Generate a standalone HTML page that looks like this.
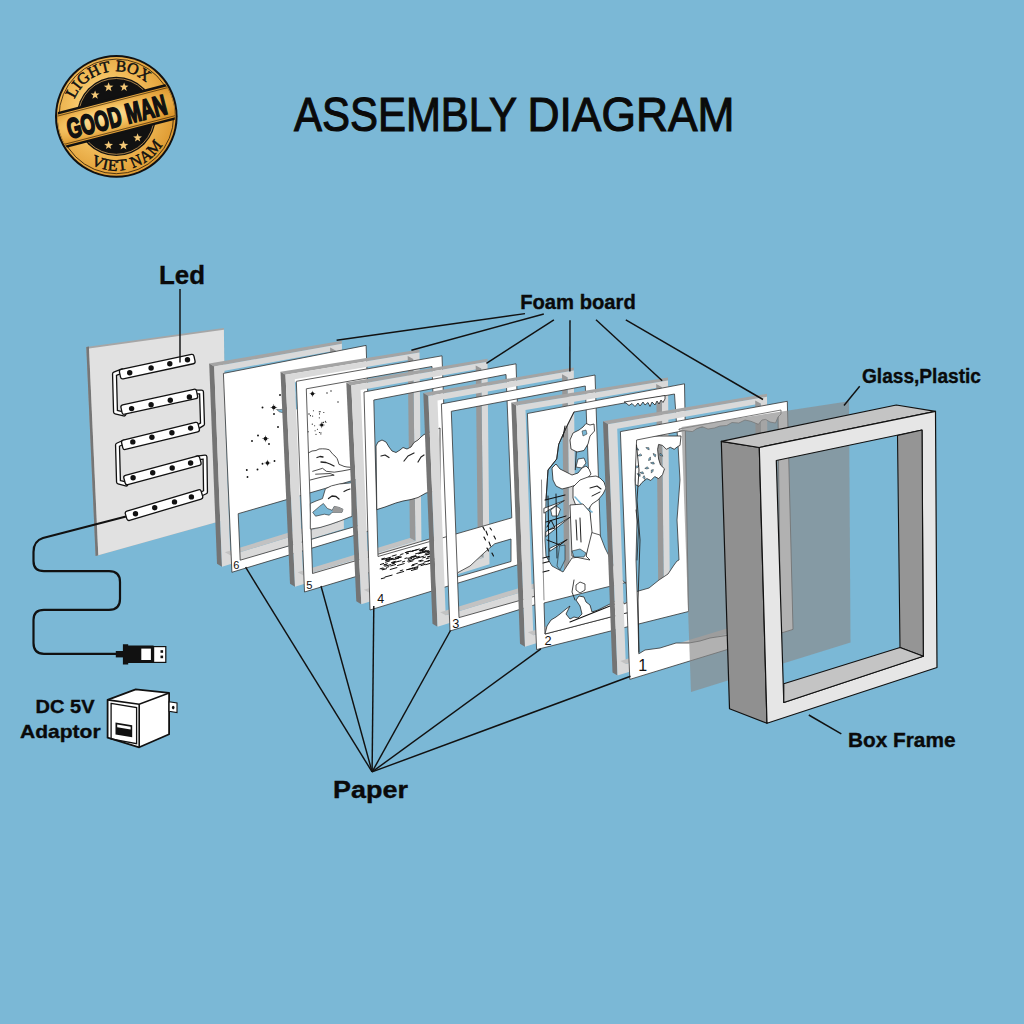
<!DOCTYPE html><html><head><meta charset="utf-8"><style>html,body{margin:0;padding:0;background:#7bb8d6;}svg{display:block;}</style></head><body><svg width="1024" height="1024" viewBox="0 0 1024 1024" font-family="Liberation Sans, sans-serif">
<rect width="1024" height="1024" fill="#7bb8d6"/>
<defs><radialGradient id="gold" cx="0.42" cy="0.45" r="0.62"><stop offset="0" stop-color="#fde6a6"/><stop offset="0.5" stop-color="#f3bf5e"/><stop offset="1" stop-color="#dc962c"/></radialGradient><clipPath id="lclip"><circle cx="116.3" cy="116.4" r="58.6"/></clipPath></defs>
<circle cx="116.3" cy="116.4" r="61.3" fill="#111"/>
<circle cx="116.3" cy="116.4" r="59.3" fill="url(#gold)"/>
<circle cx="116.3" cy="116.4" r="57.3" fill="none" stroke="#2a1a08" stroke-width="0.8"/>
<circle cx="116.3" cy="116.4" r="39.6" fill="#111"/>
<circle cx="116.3" cy="116.4" r="37.9" fill="none" stroke="#e8b060" stroke-width="0.7"/>
<g clip-path="url(#lclip)"><g transform="translate(116.3,115.9) rotate(-14.5)"><rect x="-70" y="-18.5" width="140" height="37" fill="#111"/><rect x="-70" y="-16" width="140" height="32" fill="url(#gold)"/><rect x="-70" y="-14.5" width="140" height="29" fill="none" stroke="#2a1a08" stroke-width="0.6"/></g></g>
<g transform="translate(116.6,116.9) rotate(-14.5)"><text x="0" y="0" text-anchor="middle" font-size="22" font-weight="bold" fill="#111" stroke="#111" stroke-width="1.4" textLength="102" lengthAdjust="spacingAndGlyphs" transform="translate(0,9.6) scale(1,1.28)">GOOD MAN</text></g>
<polygon points="95.1,90.4 96.2,93.4 99.5,93.6 96.9,95.6 97.8,98.7 95.1,96.9 92.4,98.7 93.3,95.6 90.7,93.6 94.0,93.4" fill="#f3c877"/>
<polygon points="108.6,82.2 109.8,85.5 113.4,85.7 110.6,87.8 111.5,91.2 108.6,89.3 105.7,91.2 106.6,87.8 103.8,85.7 107.4,85.5" fill="#f3c877"/>
<polygon points="124.1,82.6 125.2,85.6 128.5,85.8 125.9,87.8 126.8,90.9 124.1,89.1 121.4,90.9 122.3,87.8 119.7,85.8 123.0,85.6" fill="#f3c877"/>
<polygon points="108.6,140.8 109.7,143.8 113.0,144.0 110.4,146.0 111.3,149.1 108.6,147.3 105.9,149.1 106.8,146.0 104.2,144.0 107.5,143.8" fill="#f3c877"/>
<polygon points="123.5,140.4 124.7,143.7 128.3,143.9 125.5,146.0 126.4,149.4 123.5,147.5 120.6,149.4 121.5,146.0 118.7,143.9 122.3,143.7" fill="#f3c877"/>
<polygon points="137.6,133.2 138.7,136.2 142.0,136.4 139.4,138.4 140.3,141.5 137.6,139.7 134.9,141.5 135.8,138.4 133.2,136.4 136.5,136.2" fill="#f3c877"/>
<text x="0" y="0" text-anchor="middle" font-family="Liberation Serif, serif" font-size="16" fill="#111" stroke="#111" stroke-width="0.5" transform="translate(76.70,94.60) rotate(298.84)">L</text>
<text x="0" y="0" text-anchor="middle" font-family="Liberation Serif, serif" font-size="16" fill="#111" stroke="#111" stroke-width="0.5" transform="translate(80.88,88.32) rotate(308.41)">I</text>
<text x="0" y="0" text-anchor="middle" font-family="Liberation Serif, serif" font-size="16" fill="#111" stroke="#111" stroke-width="0.5" transform="translate(86.71,82.23) rotate(319.11)">G</text>
<text x="0" y="0" text-anchor="middle" font-family="Liberation Serif, serif" font-size="16" fill="#111" stroke="#111" stroke-width="0.5" transform="translate(96.31,75.86) rotate(333.75)">H</text>
<text x="0" y="0" text-anchor="middle" font-family="Liberation Serif, serif" font-size="16" fill="#111" stroke="#111" stroke-width="0.5" transform="translate(106.34,72.31) rotate(347.27)">T</text>
<text x="0" y="0" text-anchor="middle" font-family="Liberation Serif, serif" font-size="16" fill="#111" stroke="#111" stroke-width="0.5" transform="translate(120.48,71.39) rotate(365.30)">B</text>
<text x="0" y="0" text-anchor="middle" font-family="Liberation Serif, serif" font-size="16" fill="#111" stroke="#111" stroke-width="0.5" transform="translate(131.30,73.76) rotate(379.39)">O</text>
<text x="0" y="0" text-anchor="middle" font-family="Liberation Serif, serif" font-size="16" fill="#111" stroke="#111" stroke-width="0.5" transform="translate(141.60,78.94) rotate(394.04)">X</text>
<text x="0" y="0" text-anchor="middle" font-family="Liberation Serif, serif" font-size="16" fill="#111" stroke="#111" stroke-width="0.5" transform="translate(95.81,166.58) rotate(22.22)">V</text>
<text x="0" y="0" text-anchor="middle" font-family="Liberation Serif, serif" font-size="16" fill="#111" stroke="#111" stroke-width="0.5" transform="translate(104.42,169.28) rotate(12.66)">I</text>
<text x="0" y="0" text-anchor="middle" font-family="Liberation Serif, serif" font-size="16" fill="#111" stroke="#111" stroke-width="0.5" transform="translate(112.48,170.47) rotate(4.04)">E</text>
<text x="0" y="0" text-anchor="middle" font-family="Liberation Serif, serif" font-size="16" fill="#111" stroke="#111" stroke-width="0.5" transform="translate(122.83,170.20) rotate(-6.92)">T</text>
<text x="0" y="0" text-anchor="middle" font-family="Liberation Serif, serif" font-size="16" fill="#111" stroke="#111" stroke-width="0.5" transform="translate(138.08,166.03) rotate(-23.69)">N</text>
<text x="0" y="0" text-anchor="middle" font-family="Liberation Serif, serif" font-size="16" fill="#111" stroke="#111" stroke-width="0.5" transform="translate(148.57,159.95) rotate(-36.54)">A</text>
<text x="0" y="0" text-anchor="middle" font-family="Liberation Serif, serif" font-size="16" fill="#111" stroke="#111" stroke-width="0.5" transform="translate(158.30,150.65) rotate(-50.80)">M</text>
<polygon points="86.3,347.0 223.9,328.0 226.0,519.5 95.6,556.0" fill="#a6a6a6"/>
<polygon points="86.3,347.0 89.0,346.6 98.3,555.3 95.6,556.0" fill="#767676"/>
<polygon points="89.0,348.4 223.9,329.7 226.0,519.5 98.3,555.3" fill="#e1e1e1"/>
<path d="M122.0,371.0 L114.5,374.0 L115.5,412.0 L124.0,414.0" fill="none" stroke="#111" stroke-width="5.2" stroke-linejoin="round" stroke-linecap="round"/>
<path d="M122.0,371.0 L114.5,374.0 L115.5,412.0 L124.0,414.0" fill="none" stroke="#fff" stroke-width="2.6" stroke-linejoin="round" stroke-linecap="round"/>
<path d="M193.0,392.0 L201.5,392.0 L202.5,424.0 L196.0,428.0" fill="none" stroke="#111" stroke-width="5.2" stroke-linejoin="round" stroke-linecap="round"/>
<path d="M193.0,392.0 L201.5,392.0 L202.5,424.0 L196.0,428.0" fill="none" stroke="#fff" stroke-width="2.6" stroke-linejoin="round" stroke-linecap="round"/>
<path d="M124.0,442.0 L117.5,445.0 L118.5,482.0 L126.0,484.0" fill="none" stroke="#111" stroke-width="5.2" stroke-linejoin="round" stroke-linecap="round"/>
<path d="M124.0,442.0 L117.5,445.0 L118.5,482.0 L126.0,484.0" fill="none" stroke="#fff" stroke-width="2.6" stroke-linejoin="round" stroke-linecap="round"/>
<path d="M197.0,458.0 L205.0,457.0 L205.5,492.0 L199.0,495.0" fill="none" stroke="#111" stroke-width="5.2" stroke-linejoin="round" stroke-linecap="round"/>
<path d="M197.0,458.0 L205.0,457.0 L205.5,492.0 L199.0,495.0" fill="none" stroke="#fff" stroke-width="2.6" stroke-linejoin="round" stroke-linecap="round"/>
<rect x="0" y="-4.8" width="76.2" height="9.6" rx="2.2" fill="#fff" stroke="#111" stroke-width="1.3" transform="translate(120.0,374.6) rotate(-12.12)"/>
<circle cx="129.7" cy="372.7" r="2.7" fill="#111"/>
<circle cx="151.1" cy="368.0" r="2.7" fill="#111"/>
<circle cx="169.8" cy="363.8" r="2.7" fill="#111"/>
<circle cx="187.5" cy="359.8" r="2.7" fill="#111"/>
<rect x="0" y="-4.8" width="77.3" height="9.6" rx="2.2" fill="#fff" stroke="#111" stroke-width="1.3" transform="translate(121.5,410.0) rotate(-12.33)"/>
<circle cx="131.6" cy="408.6" r="2.7" fill="#111"/>
<circle cx="151.1" cy="404.7" r="2.7" fill="#111"/>
<circle cx="170.3" cy="400.3" r="2.7" fill="#111"/>
<circle cx="189.4" cy="396.9" r="2.7" fill="#111"/>
<rect x="0" y="-4.8" width="78.8" height="9.6" rx="2.2" fill="#fff" stroke="#111" stroke-width="1.3" transform="translate(122.2,445.3) rotate(-13.72)"/>
<circle cx="132.8" cy="441.9" r="2.7" fill="#111"/>
<circle cx="151.9" cy="437.2" r="2.7" fill="#111"/>
<circle cx="171.9" cy="432.8" r="2.7" fill="#111"/>
<circle cx="190.6" cy="428.1" r="2.7" fill="#111"/>
<rect x="0" y="-4.8" width="78.5" height="9.6" rx="2.2" fill="#fff" stroke="#111" stroke-width="1.3" transform="translate(124.5,480.5) rotate(-14.99)"/>
<circle cx="133.1" cy="477.8" r="2.7" fill="#111"/>
<circle cx="152.7" cy="472.7" r="2.7" fill="#111"/>
<circle cx="172.2" cy="468.0" r="2.7" fill="#111"/>
<circle cx="190.6" cy="463.0" r="2.7" fill="#111"/>
<rect x="0" y="-4.8" width="79.1" height="9.6" rx="2.2" fill="#fff" stroke="#111" stroke-width="1.3" transform="translate(126.1,516.4) rotate(-16.60)"/>
<circle cx="135.5" cy="513.8" r="2.7" fill="#111"/>
<circle cx="154.7" cy="507.8" r="2.7" fill="#111"/>
<circle cx="174.5" cy="501.9" r="2.7" fill="#111"/>
<circle cx="191.4" cy="496.9" r="2.7" fill="#111"/>
<path d="M126,516.5 L43,538 Q33.5,541 33.5,552 L33.5,561 Q33.5,571.2 44,571.2 L109,571.2 Q120,571.2 120,582 L120,599 Q120,609.9 109,609.9 L44,609.9 Q33.5,609.9 33.5,620 L33.5,643 Q33.5,653.8 44,653.8 L117,653.8" fill="none" stroke="#111" stroke-width="2.2"/>
<rect x="115.8" y="651.0" width="8" height="6.4" fill="#111"/>
<path d="M122.9,644.2 L128.2,644.2 L128.2,645.6 L153.6,645.6 L153.6,663 L128.2,663 L128.2,664.4 L122.9,664.4 Z" fill="#111"/>
<rect x="141.3" y="648.6" width="9.6" height="11.4" fill="#fff"/>
<rect x="153.6" y="646.6" width="12.2" height="15.8" fill="#fff" stroke="#111" stroke-width="1.2"/>
<rect x="160.5" y="650.2" width="2.6" height="2.6" fill="#111"/>
<rect x="160.5" y="655.6" width="2.6" height="2.6" fill="#111"/>
<polygon points="107.6,699.9 135.7,689.3 169.1,692.9 169.1,734.2 139.2,747.3 107.6,737.7" fill="#fff" stroke="#111" stroke-width="1.8" stroke-linejoin="round"/>
<polyline points="107.6,699.9 139.2,704.3 169.1,692.9" fill="none" stroke="#111" stroke-width="1.6"/>
<line x1="139.2" y1="704.3" x2="139.2" y2="747.3" stroke="#111" stroke-width="1.6"/>
<polygon points="111.1,703.4 136.6,707.6 136.6,743.6 111.1,739.0" fill="none" stroke="#111" stroke-width="1.3"/>
<polygon points="115.5,722.5 132.2,725.2 132.2,737.2 115.5,734.5" fill="#111"/>
<polygon points="117.2,724.5 130.6,726.8 130.6,729.6 117.2,727.3" fill="#fff"/>
<polygon points="169.1,701.8 177.0,703.0 177.0,712.6 169.1,711.4" fill="#fff" stroke="#111" stroke-width="1.1"/>
<ellipse cx="173.2" cy="707.6" rx="1.3" ry="1.8" fill="#111"/>
<polygon points="209.2,363.6 341.9,340.7 341.9,343.7 214.2,366.6" fill="#a4a4a4"/>
<polygon points="209.2,363.6 214.2,366.6 222.0,566.8 217.0,563.8" fill="#747474"/>
<path d="M214.2,366.6 L341.9,343.7 L343.9,528.7 L222.0,566.8Z M223.4,371.0 L335.6,350.4 L337.7,522.3 L230.3,555.2Z" fill="#d9d9d9" fill-rule="evenodd"/>
<polygon points="335.6,350.4 337.7,522.3 332.2,519.3 330.1,347.4" fill="#989898"/>
<polygon points="230.3,555.2 337.7,522.3 332.2,519.3 224.8,552.2" fill="#c2c2c2"/>
<path d="M223.4,373.4 L366.1,345.4 L372.6,529.8 L231.9,572.3Z M238.2,513.7 L356.0,479.5 L358.5,525.5 L240.2,560.2Z" fill="#fff" fill-rule="evenodd" stroke="#333" stroke-width="0.8"/>
<polygon points="277.6,407.5 275.1,408.0 275.5,409.2 274.3,408.8 273.8,411.3 273.3,408.8 272.1,409.2 272.5,408.0 270.0,407.5 272.5,407.0 272.1,405.8 273.3,406.2 273.8,403.7 274.3,406.2 275.5,405.8 275.1,407.0" fill="#111"/><circle cx="273.8" cy="407.5" r="1.44" fill="#111"/>
<polygon points="269.3,438.8 266.8,439.3 267.2,440.5 266.0,440.1 265.5,442.6 265.0,440.1 263.8,440.5 264.2,439.3 261.7,438.8 264.2,438.3 263.8,437.1 265.0,437.5 265.5,435.0 266.0,437.5 267.2,437.1 266.8,438.3" fill="#111"/><circle cx="265.5" cy="438.8" r="1.44" fill="#111"/>
<polygon points="271.1,463.0 268.7,463.5 269.1,464.6 268.0,464.2 267.5,466.6 267.0,464.2 265.9,464.6 266.3,463.5 263.9,463.0 266.3,462.5 265.9,461.4 267.0,461.8 267.5,459.4 268.0,461.8 269.1,461.4 268.7,462.5" fill="#111"/><circle cx="267.5" cy="463.0" r="1.37" fill="#111"/>
<circle cx="262.5" cy="407.5" r="0.95" fill="#111"/>
<circle cx="274" cy="414" r="0.95" fill="#111"/>
<circle cx="280" cy="395" r="0.95" fill="#111"/>
<circle cx="258" cy="435.5" r="0.95" fill="#111"/>
<circle cx="246.8" cy="470" r="0.95" fill="#111"/>
<circle cx="247.5" cy="477" r="0.95" fill="#111"/>
<circle cx="257.5" cy="469.5" r="0.95" fill="#111"/>
<circle cx="274.5" cy="461" r="0.95" fill="#111"/>
<circle cx="278" cy="427" r="0.95" fill="#111"/>
<circle cx="262.5" cy="463.8" r="0.95" fill="#111"/>
<circle cx="269" cy="444" r="0.95" fill="#111"/>
<circle cx="252" cy="441" r="0.95" fill="#111"/>
<path d="M293,382 L298.5,382.5 L298.5,409 L293.5,410 Q293,404 294.5,399 Q296.5,393 293,382Z" fill="#7bb8d6"/>
<path d="M276.5,409.5 Q280,410 283.5,409 L283,412.8 Q279,412.5 276.5,409.5Z" fill="#7bb8d6" stroke="#333" stroke-width="0.5"/>
<text x="233.2" y="568.8" font-size="11" fill="#111">6</text>
<polygon points="280.5,371.8 419.5,349.5 419.5,352.5 285.5,374.8" fill="#a4a4a4"/>
<polygon points="280.5,371.8 285.5,374.8 295.0,586.8 290.0,583.8" fill="#747474"/>
<path d="M285.5,374.8 L419.5,352.5 L421.5,547.4 L295.0,586.8Z M294.8,379.3 L413.2,359.1 L415.4,541.0 L303.1,575.2Z" fill="#d9d9d9" fill-rule="evenodd"/>
<polygon points="413.2,359.1 415.4,541.0 409.9,538.0 407.7,356.1" fill="#989898"/>
<polygon points="303.1,575.2 415.4,541.0 409.9,538.0 297.6,572.2" fill="#c2c2c2"/>
<path d="M296.3,381.3 L442.0,355.8 L449.0,548.6 L304.5,592.0Z M306.3,388.8 L432.0,366.5 L438.0,536.5 L312.5,573.5Z" fill="#fff" fill-rule="evenodd" stroke="#333" stroke-width="0.8"/>
<polygon points="315.9,393.8 313.6,394.3 314.0,395.3 313.0,394.9 312.5,397.2 312.0,394.9 311.0,395.3 311.4,394.3 309.1,393.8 311.4,393.3 311.0,392.3 312.0,392.7 312.5,390.4 313.0,392.7 314.0,392.3 313.6,393.3" fill="#111"/><circle cx="312.5" cy="393.8" r="1.29" fill="#111"/>
<polygon points="325.2,425.0 322.9,425.5 323.3,426.5 322.3,426.1 321.8,428.4 321.3,426.1 320.3,426.5 320.7,425.5 318.4,425.0 320.7,424.5 320.3,423.5 321.3,423.9 321.8,421.6 322.3,423.9 323.3,423.5 322.9,424.5" fill="#111"/><circle cx="321.8" cy="425.0" r="1.29" fill="#111"/>
<circle cx="312.283363287654" cy="424.14995985769474" r="0.55" fill="#111"/>
<circle cx="314.65919299786543" cy="425.70192100350107" r="0.55" fill="#111"/>
<circle cx="319.262965473945" cy="411.70375034023516" r="0.55" fill="#111"/>
<circle cx="308.23702384798776" cy="431.774196134508" r="0.55" fill="#111"/>
<circle cx="312.66837225790414" cy="416.0926049872141" r="0.55" fill="#111"/>
<circle cx="325.9216070391883" cy="422.22685119558366" r="0.55" fill="#111"/>
<circle cx="323.056306122939" cy="422.3851834261827" r="0.55" fill="#111"/>
<circle cx="319.5032265297949" cy="413.9160270246116" r="0.55" fill="#111"/>
<circle cx="319.4274918491334" cy="432.56917798572573" r="0.55" fill="#111"/>
<circle cx="317.4172617868994" cy="429.27254826123874" r="0.55" fill="#111"/>
<circle cx="320.0854065566527" cy="411.66481739390196" r="0.55" fill="#111"/>
<circle cx="321.6481444331627" cy="425.3685891562143" r="0.55" fill="#111"/>
<circle cx="313.4228178712828" cy="410.8063055382135" r="0.55" fill="#111"/>
<circle cx="323.579490265621" cy="422.2914763053021" r="0.55" fill="#111"/>
<circle cx="320.93883063318447" cy="432.8491328066425" r="0.55" fill="#111"/>
<circle cx="320.85433070500164" cy="433.9485653571807" r="0.55" fill="#111"/>
<circle cx="315.1093412720134" cy="430.8236280456159" r="0.55" fill="#111"/>
<circle cx="316.00317900891366" cy="434.32525476431755" r="0.55" fill="#111"/>
<circle cx="323.81959988608475" cy="412.5338120530028" r="0.55" fill="#111"/>
<circle cx="310.447439483612" cy="415.6416604720616" r="0.55" fill="#111"/>
<circle cx="325.37864250016764" cy="421.34020853231317" r="0.55" fill="#111"/>
<circle cx="319.27966923560246" cy="417.8266811590631" r="0.55" fill="#111"/>
<circle cx="331" cy="391" r="0.7" fill="#111"/>
<circle cx="338" cy="402" r="0.7" fill="#111"/>
<circle cx="327" cy="393" r="0.7" fill="#111"/>
<circle cx="309" cy="414" r="0.7" fill="#111"/>
<path d="M308.8,452.7 L312.0,451.0 L316.0,450.5 L319.0,449.0 L322.5,448.8 L326.0,449.0 L329.3,449.8 L331.0,452.0 L333.2,454.6 L335.0,456.0 L337.1,458.6 L338.0,461.0 L339.0,464.4 L342.0,465.5 L344.0,466.4 L347.0,467.0 L351.0,467.3" fill="none" stroke="#222" stroke-width="0.8" stroke-linecap="round" stroke-linejoin="round"/>
<path d="M312.7,471.3 L317.0,470.0 L322.5,468.3 L326.4,471.3 L334.2,472.2 L342.0,471.0 L351.0,469.3" fill="none" stroke="#222" stroke-width="0.8" stroke-linecap="round" stroke-linejoin="round"/>
<path d="M310.3,480.0 L316.0,478.5 L322.0,477.0 L328.0,476.0 L334.2,475.2 L330.0,473.5 L315.6,474.2" fill="none" stroke="#222" stroke-width="0.8" stroke-linecap="round" stroke-linejoin="round"/>
<path d="M317.0,457.5 L320.0,456.5 L323.0,457.0" fill="none" stroke="#222" stroke-width="1.3" stroke-linecap="round" stroke-linejoin="round"/>
<path d="M321.0,462.0 L326.0,462.5 L330.0,464.0 L334.0,466.0" fill="none" stroke="#222" stroke-width="1.3" stroke-linecap="round" stroke-linejoin="round"/>
<path d="M310.3,503.5 L316.0,501.0 L322.5,498.6 L325.4,488.8 L331.3,485.9 L339.0,484.0 L349.8,483.0 L352.0,482.5 L352.0,516.5 L349.8,517.1 L340.0,521.0 L330.0,524.5 L320.0,527.5 L311.7,528.9 L310.3,528.9Z" fill="#fff" stroke="#222" stroke-width="0.7" stroke-linejoin="round"/>
<path d="M312.7,512.3 L319.5,506.4 L323.4,503.5 L327.3,508.4 L332.2,510.3 L334.2,506.4 L339.0,507.4 L343.0,509.3 L342.0,512.3 L332.2,512.3 L329.3,515.2 L324.4,514.2 L315.6,516.2Z" fill="#7bb8d6" stroke="#222" stroke-width="0.6" stroke-linejoin="round"/>
<path d="M332.5,510.5 L334.5,506.3 L339,507.2 L343,509.3 L342,512.2 L333,512.2Z" fill="#9a9a9a"/>
<path d="M328.5,498.5 L332.0,496.0 L336.0,496.5 L339.0,499.0" fill="none" stroke="#222" stroke-width="1.3" stroke-linecap="round" stroke-linejoin="round"/>
<path d="M344.0,491.5 L347.0,490.0 L350.0,489.0" fill="none" stroke="#222" stroke-width="1.2" stroke-linecap="round" stroke-linejoin="round"/>
<text x="306.2" y="589.1" font-size="11.2" fill="#111">5</text>
<polygon points="346.3,382.5 487.5,358.8 487.5,361.8 351.3,385.5" fill="#a4a4a4"/>
<polygon points="346.3,382.5 351.3,385.5 361.3,604.3 356.3,601.3" fill="#747474"/>
<path d="M351.3,385.5 L487.5,361.8 L489.5,564.3 L361.3,604.3Z M360.6,389.9 L481.2,368.5 L483.4,557.8 L369.4,592.7Z" fill="#d9d9d9" fill-rule="evenodd"/>
<polygon points="481.2,368.5 483.4,557.8 477.9,554.8 475.7,365.5" fill="#989898"/>
<polygon points="369.4,592.7 483.4,557.8 477.9,554.8 363.9,589.7" fill="#c2c2c2"/>
<path d="M364.0,392.0 L516.0,363.8 L523.0,563.2 L370.0,610.0Z M373.8,400.0 L506.0,374.5 L511.8,517.8 L378.0,556.5Z M452.0,580.0 L458.0,572.5 L470.0,566.0 L485.0,552.0 L494.7,543.8 L511.0,539.0 L511.0,561.5 L452.0,578.5Z" fill="#fff" fill-rule="evenodd" stroke="#333" stroke-width="0.8"/>
<path d="M376.0,446.0 L378.0,442.0 L382.0,440.0 L386.0,442.0 L389.0,447.0 L392.0,451.0 L396.0,452.5 L400.0,450.0 L403.0,447.5 L407.0,449.0 L411.0,447.0 L414.0,442.5 L418.0,440.0 L421.0,437.0 L424.0,434.5 L440.0,428.0 L440.0,490.0 L426.0,493.0 L418.0,497.5 L411.0,499.5 L403.0,501.0 L395.8,503.0 L385.0,507.0 L376.8,509.6Z" fill="#fff" stroke="#222" stroke-width="0.8" stroke-linejoin="round"/>
<path d="M381.0,456.0 L385.0,455.0 L389.0,457.5" fill="none" stroke="#222" stroke-width="1.2" stroke-linecap="round" stroke-linejoin="round"/>
<path d="M404.0,461.0 L408.0,456.0 L414.0,453.0" fill="none" stroke="#222" stroke-width="1.2" stroke-linecap="round" stroke-linejoin="round"/>
<path d="M418.0,462.0 L421.0,457.0 L424.0,455.0" fill="none" stroke="#222" stroke-width="1.2" stroke-linecap="round" stroke-linejoin="round"/>
<path d="M395.2,557.5 L400.4,556.0" fill="none" stroke="#111" stroke-width="1.0" stroke-linecap="round" stroke-linejoin="round"/>
<path d="M382.6,569.8 L386.5,568.7" fill="none" stroke="#111" stroke-width="1.0" stroke-linecap="round" stroke-linejoin="round"/>
<path d="M381.9,569.3 L384.1,568.7" fill="none" stroke="#111" stroke-width="1.0" stroke-linecap="round" stroke-linejoin="round"/>
<path d="M400.7,554.5 L403.1,553.8" fill="none" stroke="#111" stroke-width="1.0" stroke-linecap="round" stroke-linejoin="round"/>
<path d="M400.2,570.8 L402.8,570.0" fill="none" stroke="#111" stroke-width="1.0" stroke-linecap="round" stroke-linejoin="round"/>
<path d="M390.2,569.5 L396.9,567.6" fill="none" stroke="#111" stroke-width="1.0" stroke-linecap="round" stroke-linejoin="round"/>
<path d="M407.9,558.4 L414.7,556.4" fill="none" stroke="#111" stroke-width="1.0" stroke-linecap="round" stroke-linejoin="round"/>
<path d="M381.3,578.7 L384.8,577.8" fill="none" stroke="#111" stroke-width="1.0" stroke-linecap="round" stroke-linejoin="round"/>
<path d="M386.2,559.5 L389.8,558.5" fill="none" stroke="#111" stroke-width="1.0" stroke-linecap="round" stroke-linejoin="round"/>
<path d="M419.8,550.7 L424.7,549.4" fill="none" stroke="#111" stroke-width="1.0" stroke-linecap="round" stroke-linejoin="round"/>
<path d="M410.9,556.9 L415.7,555.6" fill="none" stroke="#111" stroke-width="1.0" stroke-linecap="round" stroke-linejoin="round"/>
<path d="M382.1,559.6 L385.2,558.8" fill="none" stroke="#111" stroke-width="1.0" stroke-linecap="round" stroke-linejoin="round"/>
<path d="M413.0,557.3 L416.6,556.3" fill="none" stroke="#111" stroke-width="1.0" stroke-linecap="round" stroke-linejoin="round"/>
<path d="M408.3,559.4 L411.8,558.4" fill="none" stroke="#111" stroke-width="1.0" stroke-linecap="round" stroke-linejoin="round"/>
<path d="M418.7,561.0 L421.9,560.1" fill="none" stroke="#111" stroke-width="1.0" stroke-linecap="round" stroke-linejoin="round"/>
<path d="M407.7,561.1 L414.1,559.3" fill="none" stroke="#111" stroke-width="1.0" stroke-linecap="round" stroke-linejoin="round"/>
<path d="M415.5,553.9 L422.4,552.0" fill="none" stroke="#111" stroke-width="1.0" stroke-linecap="round" stroke-linejoin="round"/>
<path d="M384.9,566.2 L390.7,564.6" fill="none" stroke="#111" stroke-width="1.0" stroke-linecap="round" stroke-linejoin="round"/>
<path d="M386.6,567.3 L388.8,566.7" fill="none" stroke="#111" stroke-width="1.0" stroke-linecap="round" stroke-linejoin="round"/>
<path d="M412.4,564.8 L417.3,563.4" fill="none" stroke="#111" stroke-width="1.0" stroke-linecap="round" stroke-linejoin="round"/>
<path d="M422.8,552.1 L428.3,550.6" fill="none" stroke="#111" stroke-width="1.0" stroke-linecap="round" stroke-linejoin="round"/>
<path d="M408.7,562.0 L413.0,560.8" fill="none" stroke="#111" stroke-width="1.0" stroke-linecap="round" stroke-linejoin="round"/>
<path d="M421.0,565.6 L425.4,564.3" fill="none" stroke="#111" stroke-width="1.0" stroke-linecap="round" stroke-linejoin="round"/>
<path d="M412.2,551.1 L417.7,549.6" fill="none" stroke="#111" stroke-width="1.0" stroke-linecap="round" stroke-linejoin="round"/>
<path d="M411.4,570.5 L417.5,568.8" fill="none" stroke="#111" stroke-width="1.0" stroke-linecap="round" stroke-linejoin="round"/>
<path d="M393.2,562.8 L398.6,561.3" fill="none" stroke="#111" stroke-width="1.0" stroke-linecap="round" stroke-linejoin="round"/>
<path d="M380.1,568.8 L383.0,568.0" fill="none" stroke="#111" stroke-width="1.0" stroke-linecap="round" stroke-linejoin="round"/>
<path d="M384.9,558.9 L390.7,557.2" fill="none" stroke="#111" stroke-width="1.0" stroke-linecap="round" stroke-linejoin="round"/>
<path d="M385.5,562.2 L389.4,561.1" fill="none" stroke="#111" stroke-width="1.0" stroke-linecap="round" stroke-linejoin="round"/>
<path d="M422.6,548.4 L426.8,547.2" fill="none" stroke="#111" stroke-width="1.0" stroke-linecap="round" stroke-linejoin="round"/>
<path d="M406.5,569.8 L412.6,568.1" fill="none" stroke="#111" stroke-width="1.0" stroke-linecap="round" stroke-linejoin="round"/>
<path d="M422.2,551.7 L426.3,550.5" fill="none" stroke="#111" stroke-width="1.0" stroke-linecap="round" stroke-linejoin="round"/>
<path d="M396.9,573.4 L403.7,571.5" fill="none" stroke="#111" stroke-width="1.0" stroke-linecap="round" stroke-linejoin="round"/>
<path d="M386.5,560.5 L389.7,559.6" fill="none" stroke="#111" stroke-width="1.0" stroke-linecap="round" stroke-linejoin="round"/>
<path d="M390.7,565.9 L395.6,564.5" fill="none" stroke="#111" stroke-width="1.0" stroke-linecap="round" stroke-linejoin="round"/>
<path d="M392.1,556.1 L396.2,554.9" fill="none" stroke="#111" stroke-width="1.0" stroke-linecap="round" stroke-linejoin="round"/>
<path d="M397.5,565.5 L404.2,563.6" fill="none" stroke="#111" stroke-width="1.0" stroke-linecap="round" stroke-linejoin="round"/>
<path d="M413.5,559.0 L418.6,557.5" fill="none" stroke="#111" stroke-width="1.0" stroke-linecap="round" stroke-linejoin="round"/>
<path d="M412.8,550.9 L419.3,549.0" fill="none" stroke="#111" stroke-width="1.0" stroke-linecap="round" stroke-linejoin="round"/>
<path d="M418.0,565.1 L424.0,563.5" fill="none" stroke="#111" stroke-width="1.0" stroke-linecap="round" stroke-linejoin="round"/>
<path d="M398.6,561.4 L401.1,560.7" fill="none" stroke="#111" stroke-width="1.0" stroke-linecap="round" stroke-linejoin="round"/>
<path d="M410.7,551.6 L413.1,550.9" fill="none" stroke="#111" stroke-width="1.0" stroke-linecap="round" stroke-linejoin="round"/>
<path d="M389.4,559.4 L393.1,558.3" fill="none" stroke="#111" stroke-width="1.0" stroke-linecap="round" stroke-linejoin="round"/>
<path d="M381.6,559.0 L384.4,558.2" fill="none" stroke="#111" stroke-width="1.0" stroke-linecap="round" stroke-linejoin="round"/>
<path d="M384.1,565.2 L386.2,564.6" fill="none" stroke="#111" stroke-width="1.0" stroke-linecap="round" stroke-linejoin="round"/>
<path d="M422.7,557.9 L425.5,557.1" fill="none" stroke="#111" stroke-width="1.0" stroke-linecap="round" stroke-linejoin="round"/>
<path d="M391.6,562.5 L395.4,561.4" fill="none" stroke="#111" stroke-width="1.0" stroke-linecap="round" stroke-linejoin="round"/>
<path d="M385.1,577.0 L392.1,575.1" fill="none" stroke="#111" stroke-width="1.0" stroke-linecap="round" stroke-linejoin="round"/>
<path d="M402.3,562.0 L404.7,561.3" fill="none" stroke="#111" stroke-width="1.0" stroke-linecap="round" stroke-linejoin="round"/>
<path d="M384.1,564.7 L387.4,563.8" fill="none" stroke="#111" stroke-width="1.0" stroke-linecap="round" stroke-linejoin="round"/>
<path d="M420.4,550.2 L422.6,549.6" fill="none" stroke="#111" stroke-width="1.0" stroke-linecap="round" stroke-linejoin="round"/>
<path d="M426.5,554.9 L429.3,554.1" fill="none" stroke="#111" stroke-width="1.0" stroke-linecap="round" stroke-linejoin="round"/>
<path d="M406.2,552.4 L410.8,551.1" fill="none" stroke="#111" stroke-width="1.0" stroke-linecap="round" stroke-linejoin="round"/>
<path d="M427.9,561.1 L433.4,559.6" fill="none" stroke="#111" stroke-width="1.0" stroke-linecap="round" stroke-linejoin="round"/>
<path d="M392.1,562.8 L394.9,562.0" fill="none" stroke="#111" stroke-width="1.0" stroke-linecap="round" stroke-linejoin="round"/>
<path d="M417.6,558.0 L423.5,556.3" fill="none" stroke="#111" stroke-width="1.0" stroke-linecap="round" stroke-linejoin="round"/>
<path d="M395.5,558.7 L401.5,557.0" fill="none" stroke="#111" stroke-width="1.0" stroke-linecap="round" stroke-linejoin="round"/>
<path d="M428.2,560.8 L434.3,559.1" fill="none" stroke="#111" stroke-width="1.0" stroke-linecap="round" stroke-linejoin="round"/>
<path d="M419.9,561.5 L423.1,560.6" fill="none" stroke="#111" stroke-width="1.0" stroke-linecap="round" stroke-linejoin="round"/>
<path d="M404.9,558.5 L407.0,557.9" fill="none" stroke="#111" stroke-width="1.0" stroke-linecap="round" stroke-linejoin="round"/>
<path d="M380.4,564.5 L383.7,563.5" fill="none" stroke="#111" stroke-width="1.0" stroke-linecap="round" stroke-linejoin="round"/>
<path d="M413.6,568.7 L417.9,567.5" fill="none" stroke="#111" stroke-width="1.0" stroke-linecap="round" stroke-linejoin="round"/>
<path d="M425.9,564.6 L432.6,562.7" fill="none" stroke="#111" stroke-width="1.0" stroke-linecap="round" stroke-linejoin="round"/>
<path d="M397.2,558.1 L400.4,557.3" fill="none" stroke="#111" stroke-width="1.0" stroke-linecap="round" stroke-linejoin="round"/>
<path d="M388.8,560.3 L394.0,558.9" fill="none" stroke="#111" stroke-width="1.0" stroke-linecap="round" stroke-linejoin="round"/>
<path d="M424.0,562.1 L428.4,560.9" fill="none" stroke="#111" stroke-width="1.0" stroke-linecap="round" stroke-linejoin="round"/>
<path d="M411.6,565.8 L414.1,565.2" fill="none" stroke="#111" stroke-width="1.0" stroke-linecap="round" stroke-linejoin="round"/>
<path d="M412.0,568.3 L417.9,566.6" fill="none" stroke="#111" stroke-width="1.0" stroke-linecap="round" stroke-linejoin="round"/>
<path d="M416.5,557.2 L419.4,556.4" fill="none" stroke="#111" stroke-width="1.0" stroke-linecap="round" stroke-linejoin="round"/>
<path d="M418.5,553.8 L424.5,552.1" fill="none" stroke="#111" stroke-width="1.0" stroke-linecap="round" stroke-linejoin="round"/>
<path d="M427.6,552.1 L431.6,550.9" fill="none" stroke="#111" stroke-width="1.0" stroke-linecap="round" stroke-linejoin="round"/>
<path d="M426.3,558.8 L429.2,558.0" fill="none" stroke="#111" stroke-width="1.0" stroke-linecap="round" stroke-linejoin="round"/>
<path d="M385.4,560.3 L391.9,558.5" fill="none" stroke="#111" stroke-width="1.0" stroke-linecap="round" stroke-linejoin="round"/>
<path d="M419.3,550.3 L425.5,548.6" fill="none" stroke="#111" stroke-width="1.0" stroke-linecap="round" stroke-linejoin="round"/>
<path d="M428.0,556.9 L431.8,555.8" fill="none" stroke="#111" stroke-width="1.0" stroke-linecap="round" stroke-linejoin="round"/>
<path d="M406.4,553.8 L408.5,553.3" fill="none" stroke="#111" stroke-width="1.0" stroke-linecap="round" stroke-linejoin="round"/>
<path d="M427.5,556.9 L432.2,555.6" fill="none" stroke="#111" stroke-width="1.0" stroke-linecap="round" stroke-linejoin="round"/>
<path d="M425.7,553.4 L432.0,551.6" fill="none" stroke="#111" stroke-width="1.0" stroke-linecap="round" stroke-linejoin="round"/>
<path d="M420.3,551.1 L423.6,550.2" fill="none" stroke="#111" stroke-width="1.0" stroke-linecap="round" stroke-linejoin="round"/>
<path d="M393.6,559.6 L398.6,558.2" fill="none" stroke="#111" stroke-width="1.0" stroke-linecap="round" stroke-linejoin="round"/>
<path d="M392.0,563.9 L394.6,563.2" fill="none" stroke="#111" stroke-width="1.0" stroke-linecap="round" stroke-linejoin="round"/>
<path d="M424.5,552.3 L428.8,551.1" fill="none" stroke="#111" stroke-width="1.0" stroke-linecap="round" stroke-linejoin="round"/>
<path d="M408.2,569.6 L412.3,568.5" fill="none" stroke="#111" stroke-width="1.0" stroke-linecap="round" stroke-linejoin="round"/>
<path d="M424.9,554.9 L429.5,553.6" fill="none" stroke="#111" stroke-width="1.0" stroke-linecap="round" stroke-linejoin="round"/>
<path d="M405.2,552.6 L409.4,551.4" fill="none" stroke="#111" stroke-width="1.0" stroke-linecap="round" stroke-linejoin="round"/>
<text x="377.3" y="603" font-size="12.4" fill="#111">4</text>
<polygon points="423.3,393.0 573.8,367.5 573.8,370.5 428.3,396.0" fill="#a4a4a4"/>
<polygon points="423.3,393.0 428.3,396.0 437.5,626.8 432.5,623.8" fill="#747474"/>
<path d="M428.3,396.0 L573.8,370.5 L575.8,583.8 L437.5,626.8Z M437.5,400.4 L567.5,377.2 L569.6,577.3 L445.7,615.2Z" fill="#d9d9d9" fill-rule="evenodd"/>
<polygon points="567.5,377.2 569.6,577.3 564.1,574.3 562.0,374.2" fill="#989898"/>
<polygon points="445.7,615.2 569.6,577.3 564.1,574.3 440.2,612.2" fill="#c2c2c2"/>
<path d="M441.4,403.9 L595.0,375.0 L602.0,584.1 L450.0,631.0Z M451.3,411.3 L585.3,386.0 L592.5,580.0 L459.0,617.6Z" fill="#fff" fill-rule="evenodd" stroke="#333" stroke-width="0.8"/>
<path d="M483.0,527.0 L484.5,530.0" fill="none" stroke="#111" stroke-width="1.1" stroke-linecap="round" stroke-linejoin="round"/>
<path d="M486.0,531.0 L487.5,535.0" fill="none" stroke="#111" stroke-width="1.1" stroke-linecap="round" stroke-linejoin="round"/>
<path d="M484.0,537.0 L485.5,540.0" fill="none" stroke="#111" stroke-width="1.1" stroke-linecap="round" stroke-linejoin="round"/>
<path d="M489.0,542.0 L490.5,546.0" fill="none" stroke="#111" stroke-width="1.1" stroke-linecap="round" stroke-linejoin="round"/>
<path d="M487.0,548.0 L488.5,551.0" fill="none" stroke="#111" stroke-width="1.1" stroke-linecap="round" stroke-linejoin="round"/>
<path d="M492.0,553.0 L493.5,556.0" fill="none" stroke="#111" stroke-width="1.1" stroke-linecap="round" stroke-linejoin="round"/>
<path d="M490.0,528.0 L491.5,530.0" fill="none" stroke="#111" stroke-width="1.1" stroke-linecap="round" stroke-linejoin="round"/>
<path d="M494.0,536.0 L495.5,539.0" fill="none" stroke="#111" stroke-width="1.1" stroke-linecap="round" stroke-linejoin="round"/>
<text x="452.2" y="628" font-size="12.7" fill="#111">3</text>
<polygon points="511.3,402.5 668.0,377.5 668.0,380.5 516.3,405.5" fill="#a4a4a4"/>
<polygon points="511.3,402.5 516.3,405.5 525.0,646.8 520.0,643.8" fill="#747474"/>
<path d="M516.3,405.5 L668.0,380.5 L670.0,601.8 L525.0,646.8Z M525.5,410.0 L661.7,387.1 L663.8,595.4 L533.3,635.2Z" fill="#d9d9d9" fill-rule="evenodd"/>
<polygon points="661.7,387.1 663.8,595.4 658.3,592.4 656.2,384.1" fill="#989898"/>
<polygon points="533.3,635.2 663.8,595.4 658.3,592.4 527.8,632.2" fill="#c2c2c2"/>
<path d="M527.4,413.5 L684.5,383.8 L688.5,611.5 L536.6,649.6Z M574.0,412.0 L674.5,394.0 L678.0,445.0 L680.0,480.0 L677.0,520.0 L679.0,560.0 L677.0,561.0 L674.0,565.0 L668.0,574.0 L659.0,580.0 L649.0,588.0 L642.0,590.0 L635.0,592.0 L620.0,578.0 L605.0,548.0 L600.0,535.0 L590.0,532.0 L586.0,556.0 L572.0,558.0 L563.0,572.0 L552.0,566.0 L546.0,556.0 L545.0,540.0 L546.0,500.0 L548.0,470.0 L556.7,459.0 L558.7,444.3 L566.0,428.0Z M544.0,603.0 L603.0,588.0 L628.0,582.0 L630.0,612.0 L545.0,634.0Z" fill="#fff" fill-rule="evenodd" stroke="#333" stroke-width="0.8"/>
<path d="M574.0,412.0 L566.0,428.0 L558.7,444.3 L556.7,459.0 L548.0,470.0 L546.0,500.0" fill="none" stroke="#222" stroke-width="0.9" stroke-linecap="round" stroke-linejoin="round"/>
<path d="M565.0,426.0 L563.0,437.0" fill="none" stroke="#222" stroke-width="1.1" stroke-linecap="round" stroke-linejoin="round"/>
<path d="M552.0,468.0 L556.0,464.0 L560.0,469.0 L566.0,472.0 L572.0,475.0 L578.0,473.0 L582.0,468.0 L586.0,466.0 L589.0,469.0 L591.0,474.0 L586.0,480.0 L579.0,484.0 L570.0,487.0 L562.0,489.0 L556.0,486.0 L553.0,480.0Z" fill="#fff" stroke="#222" stroke-width="0.8" stroke-linejoin="round"/>
<path d="M576.0,467.0 L578.0,459.0 L584.0,458.0 L586.0,463.0 L582.0,468.0Z" fill="#fff" stroke="#222" stroke-width="0.7" stroke-linejoin="round"/>
<path d="M570.0,440.0 L573.0,433.0 L579.0,430.0 L583.0,427.0 L586.0,423.5 L590.0,425.0 L594.0,424.0 L594.5,431.0 L590.0,436.0 L588.0,444.0 L584.0,450.5 L577.0,452.0 L571.0,449.0Z" fill="#fff" stroke="#222" stroke-width="0.8" stroke-linejoin="round"/>
<path d="M582.0,431.0 L586.0,430.0 L587.0,434.0 L583.0,436.0Z" fill="#7bb8d6" stroke="#222" stroke-width="0.5" stroke-linejoin="round"/>
<path d="M576.3,452.0 L575.8,460.0 L575.3,469.7" fill="none" stroke="#222" stroke-width="0.9" stroke-linecap="round" stroke-linejoin="round"/>
<path d="M573.0,487.0 L580.0,480.0 L588.0,477.0 L596.0,476.0 L600.0,478.0 L604.0,482.0 L606.0,488.0 L603.0,494.0 L598.0,500.0 L592.0,504.0 L588.0,510.0 L580.0,512.0 L576.0,506.0 L573.0,498.0Z" fill="#fff" stroke="#222" stroke-width="0.8" stroke-linejoin="round"/>
<path d="M590.0,488.0 L597.0,486.0 L601.0,489.0" fill="none" stroke="#222" stroke-width="1.1" stroke-linecap="round" stroke-linejoin="round"/>
<path d="M592.0,496.0 L600.0,492.0" fill="none" stroke="#222" stroke-width="1.0" stroke-linecap="round" stroke-linejoin="round"/>
<path d="M575.0,497.0 L584.0,507.0 L592.0,512.0" fill="none" stroke="#7bb8d6" stroke-width="1.6" stroke-linecap="round" stroke-linejoin="round"/>
<path d="M570.0,505.0 L583.0,504.0 L590.0,512.0 L592.0,532.0 L586.0,556.0 L590.0,560.0 L580.0,558.0 L572.0,556.0 L571.0,530.0Z" fill="#fff" stroke="#222" stroke-width="0.8" stroke-linejoin="round"/>
<path d="M576.0,520.0 L577.0,540.0" fill="none" stroke="#222" stroke-width="1.0" stroke-linecap="round" stroke-linejoin="round"/>
<path d="M580.0,518.0 L581.0,542.0" fill="none" stroke="#222" stroke-width="1.0" stroke-linecap="round" stroke-linejoin="round"/>
<path d="M572.0,551.0 L580.0,549.0 L586.0,553.0 L584.0,557.0 L574.0,557.0Z" fill="#7bb8d6" stroke="#222" stroke-width="0.6" stroke-linejoin="round"/>
<path d="M543.9,508.3 L564.4,500.5 L543.9,513.2Z" fill="#fff" stroke="#222" stroke-width="0.8" stroke-linejoin="round"/>
<path d="M545.8,531.8 L570.2,517.1 L545.8,536.6Z" fill="#fff" stroke="#222" stroke-width="0.8" stroke-linejoin="round"/>
<path d="M549.7,548.4 L567.3,539.6 L549.7,551.3Z" fill="#fff" stroke="#222" stroke-width="0.8" stroke-linejoin="round"/>
<path d="M550.7,510.0 L556.0,506.0 L560.5,509.0 L558.0,516.0 L552.0,516.0Z" fill="#fff" stroke="#222" stroke-width="0.7" stroke-linejoin="round"/>
<path d="M545.0,500.0 L565.0,495.0" fill="none" stroke="#111" stroke-width="1.1" stroke-linecap="round" stroke-linejoin="round"/>
<path d="M548.0,496.0 L549.0,560.0" fill="none" stroke="#111" stroke-width="0.9" stroke-linecap="round" stroke-linejoin="round"/>
<path d="M556.0,494.0 L557.0,558.0" fill="none" stroke="#111" stroke-width="0.9" stroke-linecap="round" stroke-linejoin="round"/>
<path d="M546.0,522.0 L566.0,516.0" fill="none" stroke="#111" stroke-width="1.0" stroke-linecap="round" stroke-linejoin="round"/>
<path d="M547.0,540.0 L560.0,545.0 L566.0,540.0" fill="none" stroke="#111" stroke-width="1.0" stroke-linecap="round" stroke-linejoin="round"/>
<path d="M547.0,527.0 L551.0,520.0 L555.0,528.0 L548.0,530.0" fill="none" stroke="#111" stroke-width="1.0" stroke-linecap="round" stroke-linejoin="round"/>
<path d="M559.5,546.0 L565.0,545.0 L565.0,560.0 L560.0,570.0 L557.0,566.0Z" fill="#7bb8d6" stroke="#222" stroke-width="0.6" stroke-linejoin="round"/>
<path d="M543.0,558.0 L549.0,556.5" fill="none" stroke="#111" stroke-width="1.1" stroke-linecap="round" stroke-linejoin="round"/>
<path d="M543.0,563.0 L549.0,561.5" fill="none" stroke="#111" stroke-width="1.1" stroke-linecap="round" stroke-linejoin="round"/>
<path d="M543.0,572.0 L549.0,570.5" fill="none" stroke="#111" stroke-width="1.1" stroke-linecap="round" stroke-linejoin="round"/>
<path d="M541.5,480.0 L542.0,520.0 L543.0,560.0 L544.0,600.0" fill="none" stroke="#444" stroke-width="0.6" stroke-linecap="round" stroke-linejoin="round"/>
<path d="M624.0,402.0 L665.0,395.5 L665.0,399.0 L663.0,402.5 L661.0,400.0 L659.0,404.0 L657.0,401.0 L655.0,405.0 L652.0,402.0 L650.0,406.5 L648.0,402.5 L645.0,405.0 L643.0,402.0 L640.0,406.0 L638.0,403.0 L635.0,406.5 L632.0,403.5 L629.0,405.5 L626.0,403.0Z" fill="#fff" stroke="#222" stroke-width="0.8" stroke-linejoin="round"/>
<path d="M545.0,634.0 L547.0,626.0 L551.0,620.0 L556.0,617.0 L560.0,614.0 L566.0,609.0 L570.0,606.0 L566.0,614.0 L570.0,619.0 L574.0,617.0 L578.0,618.0 L582.0,614.0 L580.0,606.0 L576.0,600.0 L579.0,596.0 L584.0,597.0 L586.0,602.0 L590.0,605.0 L592.0,612.0 L598.0,610.0 L604.0,607.0 L610.0,604.0 L616.0,601.0 L621.0,598.0 L624.0,604.0 L628.0,602.0 L630.0,612.0 L545.0,634.0Z" fill="#fff" stroke="#222" stroke-width="0.8" stroke-linejoin="round"/>
<path d="M576.0,585.0 L580.0,582.0 L585.0,584.0 L585.0,590.0 L580.0,593.0 L576.0,590.0Z" fill="#fff" stroke="#222" stroke-width="0.8" stroke-linejoin="round"/>
<path d="M570.0,622.0 L595.0,612.0 L620.0,602.0" fill="none" stroke="#111" stroke-width="1.2" stroke-linecap="round" stroke-linejoin="round"/>
<path d="M574.0,580.0 L572.0,592.0 L575.0,600.0" fill="none" stroke="#111" stroke-width="0.8" stroke-linecap="round" stroke-linejoin="round"/>
<path d="M635.0,436.0 L681.0,436.0 L680.0,445.4 L678.0,446.4 L674.2,449.3 L670.3,447.3 L666.4,449.3 L662.5,445.4 L658.6,444.4 L657.6,449.3 L658.6,459.0 L660.5,465.0 L664.5,468.8 L662.5,474.7 L658.6,478.6 L654.7,476.6 L650.8,480.5 L646.9,478.6 L642.0,482.5 L639.0,486.4 L635.2,484.5Z" fill="#fff" stroke="#222" stroke-width="0.8" stroke-linejoin="round"/>
<path d="M637.9,455.7 L640.4,453.9 L642.0,455.3 L640.0,456.0Z" fill="#7bb8d6" stroke="#222" stroke-width="0.5" stroke-linejoin="round"/>
<path d="M645.9,447.5 L648.9,447.7 L649.2,449.8 L647.3,449.1Z" fill="#7bb8d6" stroke="#222" stroke-width="0.5" stroke-linejoin="round"/>
<path d="M639.1,465.9 L636.9,468.1 L635.1,466.9 L636.9,465.9Z" fill="#7bb8d6" stroke="#222" stroke-width="0.5" stroke-linejoin="round"/>
<path d="M644.8,468.4 L647.4,466.8 L648.8,468.4 L646.8,468.9Z" fill="#7bb8d6" stroke="#222" stroke-width="0.5" stroke-linejoin="round"/>
<path d="M639.8,472.6 L642.8,471.8 L643.7,473.7 L641.7,473.6Z" fill="#7bb8d6" stroke="#222" stroke-width="0.5" stroke-linejoin="round"/>
<path d="M637.1,473.6 L640.1,474.2 L640.1,476.4 L638.3,475.4Z" fill="#7bb8d6" stroke="#222" stroke-width="0.5" stroke-linejoin="round"/>
<path d="M644.9,479.6 L642.8,477.3 L644.1,475.6 L645.0,477.5Z" fill="#7bb8d6" stroke="#222" stroke-width="0.5" stroke-linejoin="round"/>
<path d="M650.5,462.8 L653.5,462.1 L654.4,464.0 L652.3,463.9Z" fill="#7bb8d6" stroke="#222" stroke-width="0.5" stroke-linejoin="round"/>
<path d="M653.2,453.4 L655.9,454.8 L655.3,456.9 L653.8,455.5Z" fill="#7bb8d6" stroke="#222" stroke-width="0.5" stroke-linejoin="round"/>
<path d="M650.4,456.9 L650.5,459.9 L648.5,460.5 L649.0,458.5Z" fill="#7bb8d6" stroke="#222" stroke-width="0.5" stroke-linejoin="round"/>
<path d="M638.8,450.2 L635.9,449.4 L636.0,447.3 L637.8,448.4Z" fill="#7bb8d6" stroke="#222" stroke-width="0.5" stroke-linejoin="round"/>
<path d="M651.3,473.1 L651.3,470.0 L653.4,469.6 L652.8,471.6Z" fill="#7bb8d6" stroke="#222" stroke-width="0.5" stroke-linejoin="round"/>
<path d="M662.9,456.2 L659.9,455.4 L660.0,453.3 L661.8,454.3Z" fill="#7bb8d6" stroke="#222" stroke-width="0.5" stroke-linejoin="round"/>
<text x="544.4" y="644.7" font-size="12.7" fill="#111">2</text>
<polygon points="603.0,421.3 767.0,393.8 767.0,396.8 608.0,424.3" fill="#a4a4a4"/>
<polygon points="603.0,421.3 608.0,424.3 617.5,675.5 612.5,672.5" fill="#747474"/>
<path d="M608.0,424.3 L767.0,396.8 L769.0,628.6 L617.5,675.5Z M617.2,428.7 L760.7,403.5 L762.8,622.2 L625.8,663.9Z" fill="#d9d9d9" fill-rule="evenodd"/>
<polygon points="760.7,403.5 762.8,622.2 757.3,619.2 755.2,400.5" fill="#989898"/>
<polygon points="625.8,663.9 762.8,622.2 757.3,619.2 620.3,660.9" fill="#c2c2c2"/>
<path d="M620.4,431.6 L787.3,401.3 L793.0,629.4 L629.8,679.4Z M636.6,440.0 L778.0,412.0 L780.5,624.0 L740.0,633.0 L726.0,635.6 L710.0,638.0 L700.0,641.0 L689.0,643.0 L676.0,643.0 L660.0,648.0 L645.0,650.0 L638.8,653.8 L638.0,620.0 L636.0,560.0 L637.0,520.0 L635.0,480.0Z" fill="#fff" fill-rule="evenodd" stroke="#333" stroke-width="0.8"/>
<path d="M679.0,430.0 L692.4,431.6 L697.0,428.5 L702.2,426.7 L708.0,429.0 L714.4,428.0 L720.0,426.0 L726.6,425.5 L732.0,422.5 L738.8,423.0 L745.0,420.0 L751.0,421.3 L758.4,424.3 L762.0,420.0 L765.7,419.4 L770.0,422.0 L775.5,423.0 L778.0,417.0 L781.0,414.0 L781.0,410.0 L679.0,429.0Z" fill="#fff" stroke="#444" stroke-width="0.7" stroke-linejoin="round"/>
<path d="M636.5,445.0 L639.0,470.0 L637.0,500.0 L640.0,540.0 L638.0,600.0 L639.0,652.0" fill="none" stroke="#222" stroke-width="0.9" stroke-linecap="round" stroke-linejoin="round"/>
<path d="M636.0,510.0 L638.5,530.0 L637.0,560.0" fill="none" stroke="#222" stroke-width="0.8" stroke-linecap="round" stroke-linejoin="round"/>
<text x="638.3" y="670.7" font-size="16" fill="#111">1</text>
<polygon points="681.5,427 849,401.2 850.5,642.5 691,692" fill="#8b8b8b" fill-opacity="0.67"/>
<polygon points="721.3,441.3 759.3,447.5 767,723.3 729.5,708.8" fill="#909090" stroke="#111" stroke-width="1.2" stroke-linejoin="round"/>
<polygon points="721.3,441.3 896.3,405 935.5,411.3 759.3,447.5" fill="#c4c4c4" stroke="#111" stroke-width="1.2" stroke-linejoin="round"/>
<path d="M759.3,447.5 L935.5,411.3 L937,667.5 L767,723.3Z M776.3,460.5 L922,430 L923.3,656.3 L783.8,702.5Z" fill="#e6e6e6" fill-rule="evenodd" stroke="#111" stroke-width="1.2" stroke-linejoin="round"/>
<polygon points="897.5,435.5 922,430 923.3,656.3 900,647.5" fill="#959595" stroke="#111" stroke-width="1.1" stroke-linejoin="round"/>
<polygon points="783.8,683.8 900,647.5 923.3,656.3 783.8,702.5" fill="#c4c4c4" stroke="#111" stroke-width="1.1" stroke-linejoin="round"/>
<line x1="525" y1="313.6" x2="336.6" y2="340.3" stroke="#111" stroke-width="1.45" fill="none"/>
<line x1="543.8" y1="314" x2="411.4" y2="350.3" stroke="#111" stroke-width="1.45" fill="none"/>
<line x1="553.9" y1="319.8" x2="486.4" y2="363.4" stroke="#111" stroke-width="1.45" fill="none"/>
<line x1="570" y1="320.3" x2="569.9" y2="371.4" stroke="#111" stroke-width="1.45" fill="none"/>
<line x1="596" y1="319.8" x2="662.2" y2="380.8" stroke="#111" stroke-width="1.45" fill="none"/>
<line x1="625.8" y1="319.8" x2="763" y2="399.5" stroke="#111" stroke-width="1.45" fill="none"/>
<line x1="372.1" y1="771.9" x2="245.6" y2="567.2" stroke="#111" stroke-width="1.45" fill="none"/>
<line x1="372.1" y1="771.9" x2="321" y2="586" stroke="#111" stroke-width="1.45" fill="none"/>
<line x1="372.1" y1="771.9" x2="373.8" y2="606" stroke="#111" stroke-width="1.45" fill="none"/>
<line x1="372.1" y1="771.9" x2="450.5" y2="630.5" stroke="#111" stroke-width="1.45" fill="none"/>
<line x1="372.1" y1="771.9" x2="540.9" y2="648.8" stroke="#111" stroke-width="1.45" fill="none"/>
<line x1="372.1" y1="771.9" x2="630.5" y2="676.3" stroke="#111" stroke-width="1.45" fill="none"/>
<line x1="180" y1="289" x2="180" y2="362.5" stroke="#111" stroke-width="1.45" fill="none"/>
<line x1="859.7" y1="386.3" x2="844" y2="405.5" stroke="#111" stroke-width="1.45" fill="none"/>
<line x1="808.8" y1="715" x2="841.3" y2="733.8" stroke="#111" stroke-width="1.45" fill="none"/>
<text x="159" y="283.6" font-size="26" font-weight="bold" fill="#0a0a0a" stroke="#0a0a0a" stroke-width="0.35" textLength="46" lengthAdjust="spacingAndGlyphs">Led</text>
<text x="520.2" y="308.9" font-size="19.6" font-weight="bold" fill="#0a0a0a" stroke="#0a0a0a" stroke-width="0.35" textLength="115.6" lengthAdjust="spacingAndGlyphs">Foam board</text>
<text x="862" y="383.1" font-size="20" font-weight="bold" fill="#0a0a0a" stroke="#0a0a0a" stroke-width="0.35" textLength="119" lengthAdjust="spacingAndGlyphs">Glass,Plastic</text>
<text x="848" y="747" font-size="20" font-weight="bold" fill="#0a0a0a" stroke="#0a0a0a" stroke-width="0.35" textLength="107.5" lengthAdjust="spacingAndGlyphs">Box Frame</text>
<text x="333" y="797.6" font-size="24.5" font-weight="bold" fill="#0a0a0a" stroke="#0a0a0a" stroke-width="0.35" textLength="75" lengthAdjust="spacingAndGlyphs">Paper</text>
<text x="35.5" y="712.5" font-size="19" font-weight="bold" fill="#0a0a0a" stroke="#0a0a0a" stroke-width="0.35" textLength="59" lengthAdjust="spacingAndGlyphs">DC 5V</text>
<text x="20" y="738.2" font-size="19" font-weight="bold" fill="#0a0a0a" stroke="#0a0a0a" stroke-width="0.35" textLength="80.6" lengthAdjust="spacingAndGlyphs">Adaptor</text>
<text x="294" y="131" font-size="48" fill="#0a0a0a" stroke="#0a0a0a" stroke-width="1.1" textLength="223" lengthAdjust="spacingAndGlyphs">ASSEMBLY</text>
<text x="527.5" y="131" font-size="48" fill="#0a0a0a" stroke="#0a0a0a" stroke-width="1.1" textLength="207" lengthAdjust="spacingAndGlyphs">DIAGRAM</text>
</svg></body></html>
